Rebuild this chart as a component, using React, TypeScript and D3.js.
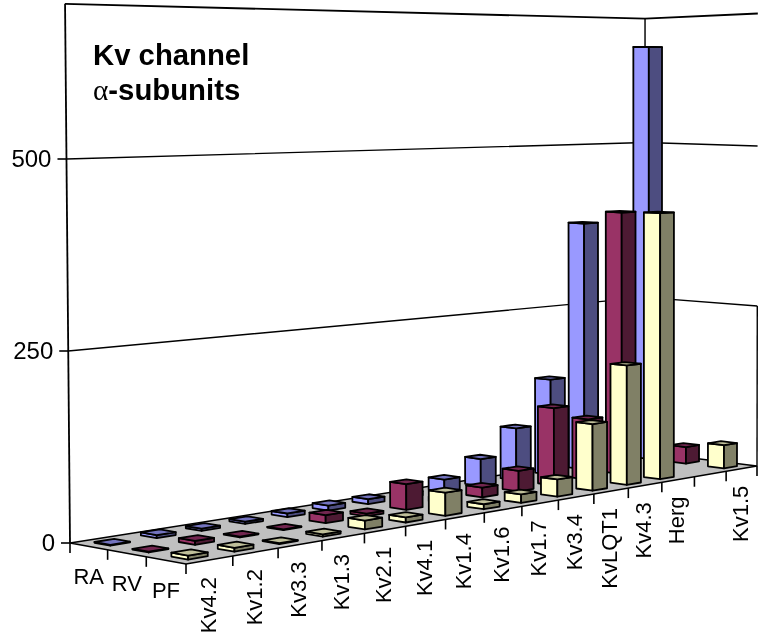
import React from 'react';
import * as d3 from 'd3';

const categories = ['Kv4.2', 'Kv1.2', 'Kv3.3', 'Kv1.3', 'Kv2.1', 'Kv4.1', 'Kv1.4', 'Kv1.6', 'Kv1.7', 'Kv3.4', 'KvLQT1', 'Kv4.3', 'Herg', ' ', 'Kv1.5'];
const seriesNames = ['RA', 'RV', 'PF'];
const raValues = [1, 4, 3, 3, 5, 7, 7, 6, 18, 40, 78, 145, 380, null, 654];
const rvValues = [1, 5, 1, 1, 11, 4, 36, 6, 14, 30, 115, 91, 400, null, 26];
const pfValues = [5, 5, 1, 3, 12, 7, 32, 7, 12, 25, 98, 178, 402, null, 36];
const seriesValues = [raValues, rvValues, pfValues];
const valueTicks = [0, 250, 500];
const valueTop = 702;

// light face, front (shaded) face, top
const seriesColors = [
  ['#9999ff', '#4d4d80', '#7373bf'],
  ['#993366', '#4d1a33', '#732650'],
  ['#ffffcc', '#808066', '#bfbf99'],
];

// floor corners on screen + perspective terms
const cornerA = [70, 543];
const cornerB = [186, 564];
const cornerC = [757, 466];
const persU = 0.24;
const persV = -0.04;
const leanX = 644;
const leanK = 1.6e-5;

const uVec = [0, 1].map(i => cornerC[i] * (1 + persU + persV) - cornerB[i] * (1 + persV));
const vVec = [0, 1].map(i => cornerB[i] * (1 + persV) - cornerA[i]);

const heightScale = d3.scaleLinear().domain([0, 700]).range([0, 537.6]);
const uBand = d3.scaleBand<string>().domain(categories).range([0, 1]);
const vBand = d3.scaleBand<string>().domain(seriesNames).range([0, 1]);

const project = (u: number, v: number, value = 0): [number, number] => {
  const den = 1 + persU * u + persV * v;
  const x = (cornerA[0] + u * uVec[0] + v * vVec[0]) / den;
  const y = (cornerA[1] + u * uVec[1] + v * vVec[1]) / den;
  const lift = heightScale(value) / den;
  return [x + (x - leanX) * leanK * lift, y - lift];
};

const line = d3.line<[number, number]>();
const closed = (pts: [number, number][]) => line(pts) + 'Z';

const Bar = ({ cat, row, value }: { cat: string; row: number; value: number }) => {
  const u0 = uBand(cat)! + uBand.bandwidth() * 0.29;
  const u1 = uBand(cat)! + uBand.bandwidth() * 0.71;
  const v0 = vBand(seriesNames[row])! + vBand.bandwidth() * 0.29;
  const v1 = vBand(seriesNames[row])! + vBand.bandwidth() * 0.71;
  const [light, dark, top] = seriesColors[row];
  return (
    <g stroke="#000" strokeWidth={1.8} strokeLinejoin="round">
      <path fill={light} d={closed([project(u0, v0), project(u0, v1), project(u0, v1, value), project(u0, v0, value)])} />
      <path fill={dark} d={closed([project(u0, v1), project(u1, v1), project(u1, v1, value), project(u0, v1, value)])} />
      <path fill={top} d={closed([project(u0, v0, value), project(u0, v1, value), project(u1, v1, value), project(u1, v0, value)])} />
    </g>
  );
};

export default function App() {
  const uTicks = d3.range(categories.length + 1).map(i => i / categories.length);
  const vTicks = d3.range(seriesNames.length + 1).map(i => i / seriesNames.length);
  const wallLevels = [250, 500];

  return (
    <svg width={758} height={636} style={{ position: 'fixed', left: 0, top: 0 }} fontFamily="'Liberation Sans', Arial, sans-serif" fill="#000">
      {/* walls */}
      <g stroke="#000" strokeWidth={1.4} fill="none">
        {wallLevels.map(w => (
          <path key={w} d={line([project(0, 0, w), project(1, 0, w), project(1, 1, w)])!} />
        ))}
        <path strokeWidth={1.8} d={line([project(0, 0, valueTop), project(1, 0, valueTop - 2), project(1, 1, valueTop + 5)])!} />
        <path strokeWidth={1.8} d={line([project(0, 0), project(0, 0, valueTop)])!} />
        <path d={line([project(1, 0), project(1, 0, valueTop - 2)])!} />
        <path d={line([project(1, 1), project(1, 1, 250)])!} />
      </g>

      {/* floor */}
      <path fill="#c0c0c0" stroke="#000" strokeWidth={1.5} d={closed([project(0, 0), project(1, 0), project(1, 1), project(0, 1)])} />

      {/* ticks */}
      <g stroke="#000" strokeWidth={1.6}>
        {valueTicks.map(t => {
          const [x, y] = project(0, 0, t);
          return <line key={t} x1={x - 9} x2={x} y1={y} y2={y} />;
        })}
        {vTicks.map(v => {
          const [x, y] = project(0, v);
          return <line key={v} x1={x} x2={x} y1={y} y2={y + 10} />;
        })}
        {uTicks.slice(1).map(u => {
          const [x, y] = project(u, 1);
          return <line key={u} x1={x} x2={x} y1={y} y2={y + 10} />;
        })}
      </g>

      {/* bars, back row first, far end first */}
      {seriesNames.map((name, row) =>
        categories.map((cat, i) => ({ cat, value: seriesValues[row][i] })).reverse().map(d =>
          d.value == null ? null : <Bar key={name + d.cat} cat={d.cat} row={row} value={d.value} />
        )
      )}

      {/* value labels */}
      <g fontSize={24} textAnchor="end">
        {valueTicks.map(t => {
          const [x, y] = project(0, 0, t);
          return <text key={t} x={x - 15} y={y + 8}>{t}</text>;
        })}
      </g>

      {/* series labels */}
      <g fontSize={22} textAnchor="middle">
        {seriesNames.map(name => {
          const [x, y] = project(0, vBand(name)! + vBand.bandwidth() / 2);
          return <text key={name} x={x} y={y + 38}>{name}</text>;
        })}
      </g>

      {/* category labels */}
      <g fontSize={22} textAnchor="end">
        {categories.map(cat => {
          const [x, y] = project(uBand(cat)! + uBand.bandwidth() / 2, 1);
          return <text key={cat} transform={`translate(${x + 6},${y + 17}) rotate(-90)`}>{cat}</text>;
        })}
      </g>

      <text x={93} y={65} fontSize={29.3} fontWeight="bold">Kv channel</text>
      <text x={93} y={100} fontSize={29.3} fontWeight="bold">
        <tspan fontFamily="'Liberation Serif', serif" fontWeight="normal">α</tspan>-subunits
      </text>
    </svg>
  );
}
